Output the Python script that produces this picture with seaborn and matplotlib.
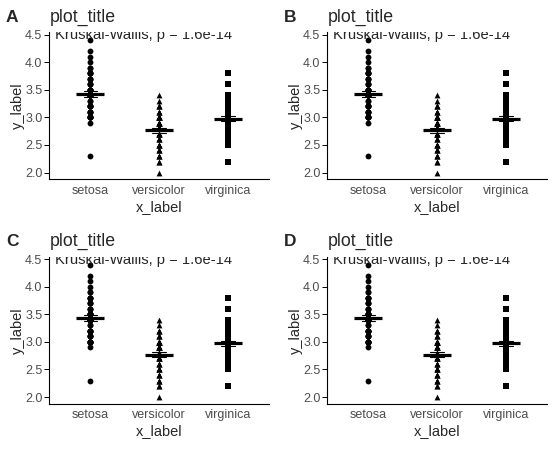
import seaborn as sns
import matplotlib.pyplot as plt
import pandas as pd

species = ["setosa", "versicolor", "virginica"]
markers = ["o", "^", "s"]
panel_tags = ["A", "B", "C", "D"]

setosa = [3.5, 3.0, 3.2, 3.1, 3.6, 3.9, 3.4, 3.4, 2.9, 3.1, 3.7, 3.4, 3.0, 3.0, 4.0, 4.4, 3.9,
          3.5, 3.8, 3.8, 3.4, 3.7, 3.6, 3.3, 3.4, 3.0, 3.4, 3.5, 3.4, 3.2, 3.1, 3.4, 4.1, 4.2,
          3.1, 3.2, 3.5, 3.6, 3.0, 3.4, 3.5, 2.3, 3.2, 3.5, 3.8, 3.0, 3.8, 3.2, 3.7, 3.3]
versicolor = [3.2, 3.2, 3.1, 2.3, 2.8, 2.8, 3.3, 2.4, 2.9, 2.7, 2.0, 3.0, 2.2, 2.9, 2.9, 3.1, 3.0,
              2.7, 2.2, 2.5, 3.2, 2.8, 2.5, 2.8, 2.9, 3.0, 2.8, 3.0, 2.9, 2.6, 2.4, 2.4, 2.7, 2.7,
              3.0, 3.4, 3.1, 2.3, 3.0, 2.5, 2.6, 3.0, 2.6, 2.3, 2.7, 3.0, 2.9, 2.9, 2.5, 2.8]
virginica = [3.3, 2.7, 3.0, 2.9, 3.0, 3.0, 2.5, 2.9, 2.5, 3.6, 3.2, 2.7, 3.0, 2.5, 2.8, 3.2, 3.0,
             3.8, 2.6, 2.2, 3.2, 2.8, 2.8, 2.7, 3.3, 3.2, 2.8, 3.0, 2.8, 3.0, 2.8, 3.8, 2.8, 2.8,
             2.6, 3.0, 3.4, 3.1, 3.0, 3.1, 3.1, 3.1, 2.7, 3.2, 3.3, 3.0, 2.5, 3.0, 3.4, 3.0]

stat_label = "Kruskal-Wallis, p = 1.6e-14"

df = pd.DataFrame({
    "species": ["setosa"] * len(setosa) + ["versicolor"] * len(versicolor) + ["virginica"] * len(virginica),
    "width": setosa + versicolor + virginica,
})

sns.set_style("ticks")
plt.rcParams["font.family"] = ["Liberation Sans", "DejaVu Sans"]

fig = plt.figure(figsize=(5.56, 4.49), dpi=100)

W, H = 556, 449
# panel rectangles in pixels: left, top
corners = [(49.3, 32.3), (327.3, 32.3), (49.3, 256.8), (327.3, 256.8)]
pw, ph = 219.7, 146.9

for tag, (px, py) in zip(panel_tags, corners):
    ax = fig.add_axes([px / W, 1 - (py + ph) / H, pw / W, ph / H])

    for sp, m in zip(species, markers):
        sub = df[df["species"] == sp]
        sns.stripplot(data=sub, x="species", y="width", order=species, jitter=False,
                      marker=m, color="black", size=4.2, linewidth=0, ax=ax, zorder=2)

    # mean +/- se
    sns.pointplot(data=df, x="species", y="width", order=species, errorbar="se",
                  color="black", linestyle="none", marker="_", markersize=19.5,
                  markeredgewidth=2.3, capsize=0.2, err_kws={"linewidth": 0.8}, ax=ax, zorder=3)

    ax.set_xlim(-0.6, 2.6)
    ax.set_ylim(1.88, 4.54)
    ax.set_yticks([2.0, 2.5, 3.0, 3.5, 4.0, 4.5])
    ax.set_yticklabels(["2.0", "2.5", "3.0", "3.5", "4.0", "4.5"])
    sns.despine(ax=ax)
    for s in ["left", "bottom"]:
        ax.spines[s].set_linewidth(0.8)
        ax.spines[s].set_color("black")
    ax.tick_params(axis="y", length=3.5, width=0.7, color="black", labelsize=9,
                   labelcolor="#4D4D4D", pad=1.5)
    ax.tick_params(axis="x", length=0, labelsize=9, labelcolor="#4D4D4D", pad=4)
    ax.set_xlabel("x_label", fontsize=10.5, labelpad=2)
    ax.set_ylabel("y_label", fontsize=10.5, labelpad=0)
    ax.grid(False)

    ax.text(-0.52, 4.415, stat_label, fontsize=10.6, ha="left", va="baseline",
            clip_on=True, zorder=4)

    base_y = 1 - (21.7 + py - 32.3) / H
    fig.text(px / W, base_y, "plot_title", fontsize=12.8, ha="left", va="baseline")
    fig.text((px - 43.3) / W, base_y, tag, fontsize=12.5,
             fontweight="bold", ha="left", va="baseline")

fig.savefig("out.png", dpi=100)
